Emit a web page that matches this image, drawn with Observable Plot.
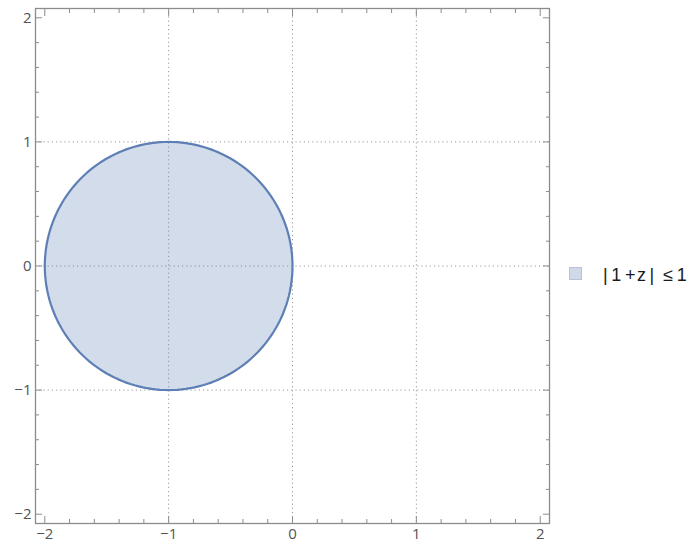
<!DOCTYPE html>
<html>
<head>
<meta charset="utf-8">
<script src="https://cdn.jsdelivr.net/npm/d3@7"></script>
<script src="https://cdn.jsdelivr.net/npm/@observablehq/plot@0.6"></script>
<style>
  html, body { margin: 0; padding: 0; background: #fff; }
  #wrap { position: relative; width: 692px; height: 546px; }
  #legend {
    position: absolute; left: 569px; top: 265px;
    display: flex; align-items: center;
    font-family: "Liberation Sans", Arial, sans-serif; font-size: 18px; color: #1a1a1a;
    white-space: pre;
  }
  #legend .swatch {
    width: 11px; height: 11px; background: #d1d9e8; border: 1px solid #b4c2da;
    margin-right: 21px; position: relative; top: -2px;
  }
</style>
</head>
<body>
<div id="wrap"><div id="legend"><span class="swatch"></span><span class="label"></span></div></div>
<script>
// Region |1 + z| <= 1: disk centred at z = -1 with radius 1
const center = [-1, 0];
const radius = 1;
const legendLabel = "|\u20091\u2009+\u200az\u2009|\u2002≤\u20091";

// Axis ticks and grid
const majorTicks = [-2, -1, 0, 1, 2];
const minorTicks = d3.range(-20, 21, 2).map(d => d / 10).filter(d => !majorTicks.includes(d));
const gridLines = [-1, 0, 1];
const domain = [-2.075, 2.075];

// Boundary of the disk, sampled around the circle
const boundary = d3.range(0, 361, 2).map(a => {
  const t = a * Math.PI / 180;
  return {x: center[0] + radius * Math.cos(t), y: center[1] + radius * Math.sin(t)};
});

const frameColor = "#8c8c8c";
const labelColor = "#555";
const fmt = d => d < 0 ? "−" + Math.abs(d) : String(d);

const inwardTicks = (anchorX, anchorY) => [
  Plot.axisX({anchor: anchorX, ticks: majorTicks, tickSize: -7, fill: "none", stroke: frameColor}),
  Plot.axisX({anchor: anchorX, ticks: minorTicks, tickSize: -4, fill: "none", stroke: frameColor}),
  Plot.axisY({anchor: anchorY, ticks: majorTicks, tickSize: -7, fill: "none", stroke: frameColor}),
  Plot.axisY({anchor: anchorY, ticks: minorTicks, tickSize: -4, fill: "none", stroke: frameColor})
];

const chart = Plot.plot({
  width: 692,
  height: 546,
  marginLeft: 35,
  marginRight: 143,
  marginTop: 8,
  marginBottom: 23,
  style: {fontFamily: "'Open Sans', 'DejaVu Sans', sans-serif", fontSize: "15px", background: "#fff"},
  x: {domain, label: null},
  y: {domain, label: null},
  marks: [
    Plot.gridX(gridLines, {stroke: "#9a9a9a", strokeOpacity: 1, strokeDasharray: "1.2,3"}),
    Plot.gridY(gridLines, {stroke: "#9a9a9a", strokeOpacity: 1, strokeDasharray: "1.2,3"}),
    Plot.line(boundary, {x: "x", y: "y", fill: "#5e81b5", fillOpacity: 0.28, stroke: "none"}),
    Plot.line(boundary, {x: "x", y: "y", stroke: "#5e7fb5", strokeWidth: 2.2}),
    Plot.axisX({anchor: "bottom", ticks: majorTicks, tickSize: 0, tickPadding: 5, tickFormat: fmt, fill: labelColor}),
    Plot.axisY({anchor: "left", ticks: majorTicks, tickSize: 0, tickPadding: 4, tickFormat: fmt, fill: labelColor}),
    ...inwardTicks("bottom", "left"),
    ...inwardTicks("top", "right"),
    Plot.frame({stroke: frameColor, strokeWidth: 1.3})
  ]
});

document.getElementById("wrap").prepend(chart);
document.querySelector("#legend .label").textContent = legendLabel;
</script>
</body>
</html>
